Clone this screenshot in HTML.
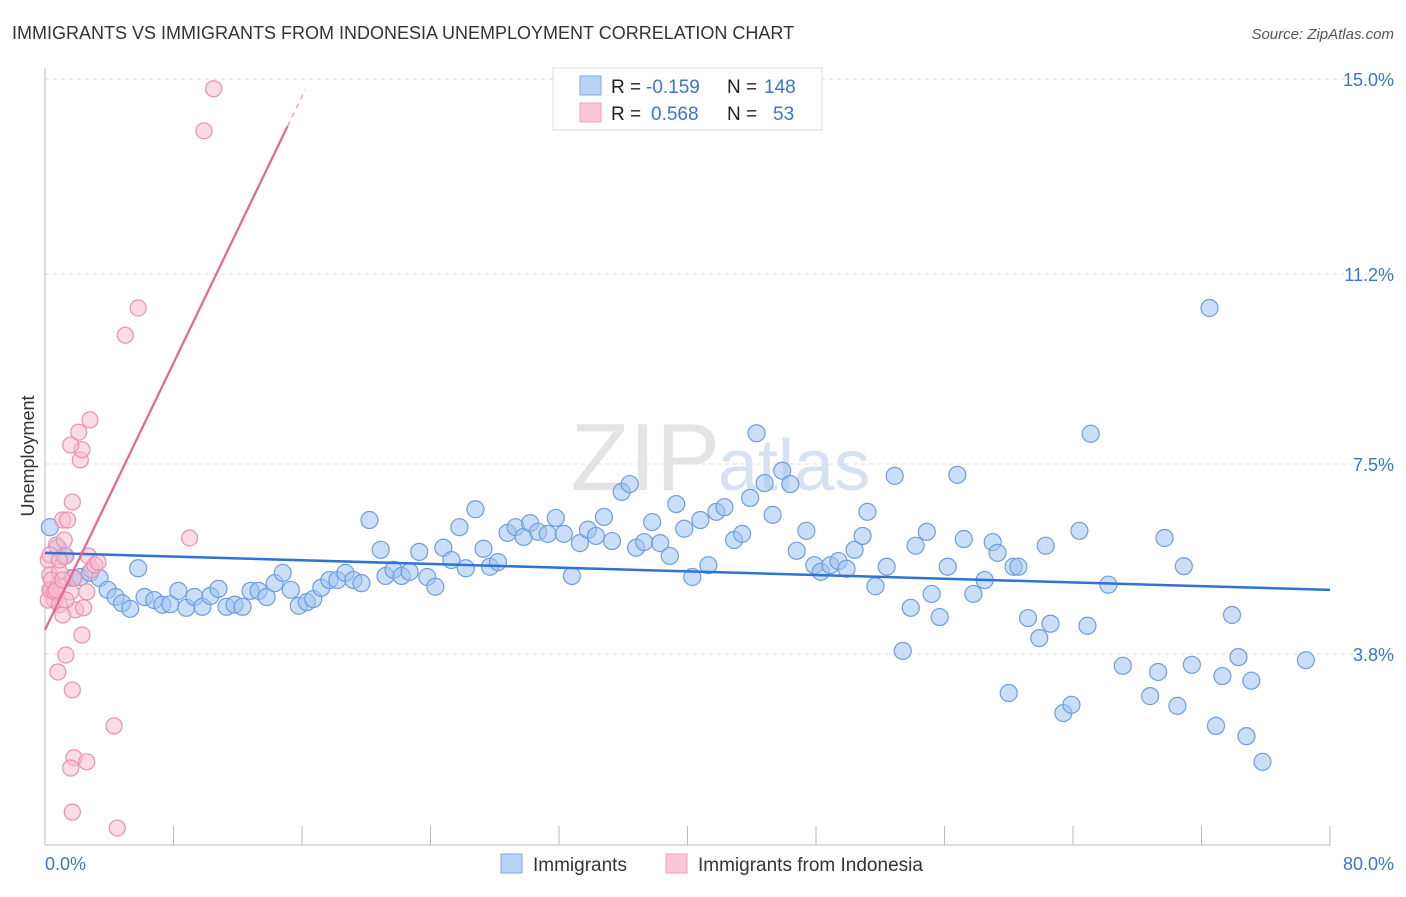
<!DOCTYPE html>
<html><head><meta charset="utf-8"><style>
body{margin:0;background:#fff;font-family:"Liberation Sans",sans-serif;}
svg text{font-family:"Liberation Sans",sans-serif;}
</style></head><body>
<svg id="chart" width="1406" height="892">
<text x="12" y="39" font-size="18" fill="#333">IMMIGRANTS VS IMMIGRANTS FROM INDONESIA UNEMPLOYMENT CORRELATION CHART</text>
<text x="1394" y="39" font-size="15" fill="#555" font-style="italic" text-anchor="end">Source: ZipAtlas.com</text>
<text x="720" y="490" font-size="96" fill="#e4e4e4" text-anchor="end" font-family="Liberation Serif">ZIP</text>
<text x="718" y="490" font-size="72" fill="#d6e2f2">atlas</text>
<g id="grid"></g>
<g id="axes"></g>
<g id="pts"></g>
<g id="trend"></g>
<text x="34" y="456" font-size="18" fill="#333" text-anchor="middle" transform="rotate(-90 34 456)">Unemployment</text>
<text x="45" y="870" font-size="18" fill="#3a76d0">0.0%</text>
<text x="1394" y="870" font-size="18" fill="#3a76d0" text-anchor="end">80.0%</text>
<g>
<rect x="553" y="68" width="269" height="62" fill="#fff" stroke="#ddd"/>
<rect x="580" y="76" width="21" height="19" fill="#b9d3f5" stroke="#7fa9e6"/>
<rect x="580" y="103" width="21" height="19" fill="#fbc7d6" stroke="#f2a0ba"/>
<text x="611" y="93" font-size="19" fill="#222">R = </text><text x="646" y="93" font-size="19" fill="#3a76d0">-0.159</text>
<text x="727" y="93" font-size="19" fill="#222">N = </text><text x="764" y="93" font-size="19" fill="#3a76d0">148</text>
<text x="611" y="120" font-size="19" fill="#222">R = </text><text x="651" y="120" font-size="19" fill="#3a76d0">0.568</text>
<text x="727" y="120" font-size="19" fill="#222">N = </text><text x="773" y="120" font-size="19" fill="#3a76d0">53</text>
</g>
<g>
<rect x="501" y="854" width="21" height="19" fill="#b9d3f5" stroke="#7fa9e6"/>
<text x="533" y="871" font-size="19" fill="#333">Immigrants</text>
<rect x="666" y="854" width="21" height="19" fill="#fbc7d6" stroke="#f2a0ba"/>
<text x="698" y="871" font-size="19" fill="#333">Immigrants from Indonesia</text>
</g>
</svg>
<script>
const yTicks=[15.0,11.2,7.5,3.8];
const yTickLabels=["15.0%","11.2%","7.5%","3.8%"];
const xTicks=[0,8,16,24,32,40,48,56,64,72,80];
const blueX=[0.3,0.8,1.2,1.7,2.2,2.8,3.4,3.9,4.4,4.8,5.3,5.8,6.2,6.8,7.3,7.8,8.3,8.8,9.3,9.8,10.3,10.8,11.3,11.8,12.3,12.8,13.3,13.8,14.3,14.8,15.3,15.8,16.3,16.7,17.2,17.7,18.2,18.7,19.2,19.7,20.2,20.9,21.2,21.7,22.2,22.7,23.3,23.8,24.3,24.8,25.3,25.8,26.2,26.8,27.3,27.7,28.2,28.8,29.3,29.8,30.2,30.7,31.3,31.8,32.3,32.8,33.3,33.8,34.3,34.8,35.3,35.9,36.4,36.8,37.3,37.8,38.3,38.9,39.3,39.8,40.3,40.8,41.3,41.8,42.3,42.9,43.4,43.9,44.3,44.8,45.3,45.9,46.4,46.8,47.4,47.9,48.3,48.9,49.4,49.9,50.4,50.9,51.2,51.7,52.4,52.9,53.4,53.9,54.2,54.9,55.2,55.7,56.2,56.8,57.2,57.8,58.5,59.0,59.3,60.0,60.3,60.6,61.2,61.9,62.3,62.6,63.4,63.9,64.4,65.1,64.9,66.2,67.1,68.8,69.3,69.7,70.5,70.9,71.4,72.5,72.9,73.3,73.9,74.3,74.8,75.1,75.8,78.5];
const blueY=[6.27,5.87,5.71,5.28,5.30,5.38,5.28,5.05,4.91,4.79,4.68,5.47,4.91,4.85,4.76,4.77,5.03,4.70,4.91,4.72,4.93,5.07,4.72,4.76,4.72,5.03,5.03,4.91,5.18,5.38,5.05,4.74,4.81,4.87,5.09,5.24,5.24,5.38,5.24,5.18,6.41,5.83,5.32,5.44,5.32,5.40,5.79,5.30,5.11,5.87,5.63,6.27,5.47,6.62,5.85,5.50,5.59,6.16,6.27,6.08,6.35,6.18,6.14,6.45,6.14,5.32,5.96,6.22,6.10,6.47,6.00,6.96,7.11,5.87,5.98,6.37,5.96,5.71,6.72,6.24,5.30,6.41,5.53,6.57,6.66,6.02,6.14,6.84,8.10,7.13,6.51,7.37,7.11,5.81,6.20,5.53,5.40,5.53,5.61,5.46,5.83,6.10,6.57,5.12,5.50,7.27,3.86,4.70,5.91,6.18,4.97,4.52,5.50,7.29,6.04,4.97,5.24,5.98,5.77,3.04,5.50,5.50,4.50,4.11,5.91,4.39,2.65,2.81,6.20,8.09,4.35,5.15,3.57,2.98,3.45,6.06,2.79,5.51,3.59,10.54,2.40,3.37,4.56,3.74,2.20,3.28,1.70,3.68];
const pinkX=[0.2,0.3,0.4,0.6,0.7,0.8,0.9,1.1,1.2,1.3,1.4,1.6,1.7,1.8,1.9,2.1,2.2,2.3,2.4,2.6,2.7,2.8,2.9,3.1,3.3,0.2,0.3,0.4,0.6,0.9,1.1,1.3,0.8,1.6,1.7,2.3,1.8,1.6,1.7,2.6,4.3,4.5,5.0,5.8,9.0,9.9,10.5,0.3,0.7,1.1,1.3,0.9];
const pinkY=[5.63,5.34,5.05,4.85,5.92,5.15,5.40,6.41,6.02,5.71,6.41,5.01,6.76,5.28,4.66,8.12,7.58,7.78,4.70,5.01,5.71,8.36,5.44,5.53,5.59,4.85,5.05,5.24,5.01,4.76,4.56,3.78,3.45,7.87,3.10,4.17,1.78,1.58,0.72,1.70,2.40,0.41,10.01,10.54,6.06,13.99,14.81,5.73,5.05,5.24,4.85,5.63];
const blueTrend=[0,5.77,80,5.05];
const pinkTrend=[0,4.27,15.1,14.08,16.2];
const X=v=>45+v*1285/80;
const Y=v=>79+(15-v)*51.34;
const NS="http://www.w3.org/2000/svg";
function mk(tag,attrs,parent){const e=document.createElementNS(NS,tag);for(const k in attrs)e.setAttribute(k,attrs[k]);parent.appendChild(e);return e;}
const grid=document.getElementById('grid'),axes=document.getElementById('axes'),pts=document.getElementById('pts'),trend=document.getElementById('trend');
yTicks.forEach((t,i)=>{
 const l=mk('line',{x1:45,x2:1394,y1:Y(t),y2:Y(t),stroke:'#ddd','stroke-dasharray':'4,4'},grid);
 
 
 const tx=mk('text',{x:1394,y:Y(t)+7,'font-size':18,fill:'#3a76d0','text-anchor':'end'},grid);
 tx.textContent=yTickLabels[i];
 
 
});
const ax=mk('line',{x1:45,x2:1330,y1:845,y2:845,stroke:'#bbb'},axes);


const ay=mk('line',{x1:45,x2:45,y1:68,y2:845,stroke:'#bbb'},axes);


xTicks.forEach(t=>{
 const l=mk('line',{x1:X(t),x2:X(t),y1:826,y2:845,stroke:'#bbb'},axes);
 
 
});
blueX.forEach((x,i)=>{
 const c=mk('circle',{cx:X(x),cy:Y(blueY[i]),r:8.5,fill:'rgba(160,195,240,0.55)',stroke:'#6d9ee0','stroke-width':1.2},pts);
 
 
});
pinkX.forEach((x,i)=>{
 const c=mk('circle',{cx:X(x),cy:Y(pinkY[i]),r:8,fill:'rgba(248,185,205,0.5)',stroke:'#ee8fae','stroke-width':1.2},pts);
 
 
});
const bt=mk('line',{x1:X(blueTrend[0]),y1:Y(blueTrend[1]),x2:X(blueTrend[2]),y2:Y(blueTrend[3]),stroke:'#2f73d4','stroke-width':2.5},trend);


const pt=mk('line',{x1:X(pinkTrend[0]),y1:Y(pinkTrend[1]),x2:X(pinkTrend[2]),y2:Y(pinkTrend[3]),stroke:'#e9648f','stroke-width':2.2},trend);


const slope=(pinkTrend[3]-pinkTrend[1])/(pinkTrend[2]-pinkTrend[0]);
const pd=mk('line',{x1:X(pinkTrend[2]),y1:Y(pinkTrend[3]),x2:X(pinkTrend[4]),y2:Y(pinkTrend[1]+slope*pinkTrend[4]),stroke:'#f0a0b8','stroke-width':1.5,'stroke-dasharray':'5,5'},trend);


</script>
</body></html>
